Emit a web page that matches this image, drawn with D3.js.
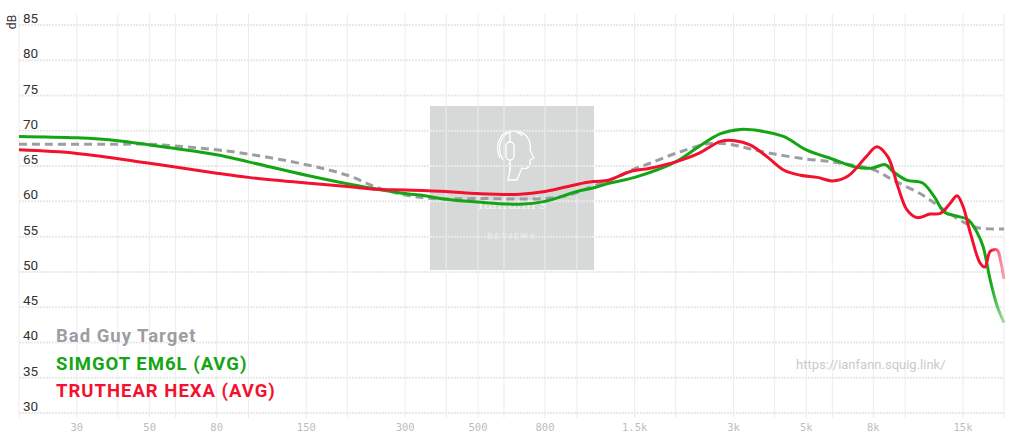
<!DOCTYPE html>
<html><head><meta charset="utf-8">
<script src="https://cdn.jsdelivr.net/npm/d3@7"></script>
<style>
html,body{margin:0;padding:0;background:#fff;}
svg{display:block;}
</style></head>
<body>
<svg id="chart" width="1024" height="443"></svg>
<script>
// ---- data ----
const yTicks = [30,35,40,45,50,55,60,65,70,75,80,85];
const xGridFreqs = [20,30,40,50,60,80,100,150,200,300,400,500,600,800,1000,1500,2000,3000,4000,5000,6000,8000,10000,15000,20000];
const xTickFreqs = [30,50,80,150,300,500,800,1500,3000,5000,8000,15000];
const xTickLabels = ["30","50","80","150","300","500","800","1.5k","3k","5k","8k","15k"];

const targetFreq = [20,40,50,80,100,150,200,246,300,365,500,800,950,1100,1300,1500,1670,2000,2550,3000,3400,4000,5000,6000,7000,8000,9200,11300,13150,15000,16500,18000,20000];
const targetDb   = [68.1,68.1,68.1,67.3,66.7,65.2,63.7,62.0,60.9,60.4,60.4,60.4,60.9,62.0,63.3,64.6,65.4,66.8,68.2,68.0,67.4,66.7,66.0,65.6,65.1,64.5,63.0,60.9,58.8,57.1,56.3,56.1,56.1];

const simgotFreq = [20,30,40,50,60,80,100,150,200,300,333,400,500,670,800,1000,1120,1260,1500,2000,2350,2740,3150,3600,4260,5000,6000,7000,7900,8700,9200,10100,11300,12250,13150,14400,15550,16560,17270,18150,19060,20000];
const simgotDb   = [69.2,69.0,68.6,68.0,67.5,66.6,65.6,63.7,62.5,61.1,60.9,60.3,59.9,59.6,60.0,61.4,61.9,62.6,63.4,65.6,67.75,69.6,70.2,70.0,69.2,67.3,66.0,64.9,64.7,65.2,64.2,63.0,62.6,60.7,58.5,57.9,57.4,55.6,53.6,48.9,45.2,42.8];

const hexaFreq = [20,30,50,80,100,150,200,246,300,400,500,670,800,1000,1120,1250,1450,1670,2000,2350,2740,3030,3370,3800,4260,4800,5400,6000,6700,7600,8200,8860,9500,10130,10870,11900,12800,13700,14400,15000,15800,16940,17500,18150,19060,19550,20000];
const hexaDb   = [67.3,66.8,65.4,64.0,63.4,62.6,62.1,61.7,61.6,61.4,61.1,61.0,61.4,62.4,62.8,63.0,64.2,64.7,65.6,66.8,68.5,68.6,68.0,66.3,64.45,63.7,63.4,62.9,63.6,66.3,67.75,66.3,62.1,58.8,57.7,58.2,58.3,59.7,60.8,59.3,55.5,51.2,50.7,52.9,53.1,51.5,49.0];

const legendNames = ["Bad Guy Target","SIMGOT EM6L (AVG)","TRUTHEAR HEXA (AVG)"];
const legendColors = ["#9c9ea3","#13a513","#f2122f"];

// ---- chart ----
const svg = d3.select("#chart");
const x = d3.scaleLog().domain([20,20000]).range([19,1004]);
const y = d3.scaleLinear().domain([30,85]).range([413,25]);

// watermark box
const wm = svg.append("g");
wm.append("rect").attr("x",430).attr("y",106).attr("width",164).attr("height",164).attr("fill","#d6d9d8");
// headphone head icon
const ic = wm.append("g").attr("fill","none").attr("stroke","#fff").attr("stroke-width",1.3);
ic.append("path").attr("d","M503,160 C497,150 499,136 510,132 C522,128 532,138 530,150 L534,158 L530,160 C531,166 528,170 522,168 C520,172 519,176 517,180 L508,180 C510,174 510,168 509,163");
ic.append("path").attr("d","M500,158 C494,145 500,132 511,131 C516,131 520,133 522,136");
ic.append("rect").attr("x",506).attr("y",142).attr("width",8).attr("height",18).attr("rx",4);
ic.append("path").attr("d","M510,132 L510,142 M510,160 L510,172");
wm.append("text").attr("x",512).attr("y",209).attr("text-anchor","middle")
  .attr("font-family","Liberation Serif, serif").attr("font-size",19).attr("fill","#f2f3f3").text("Ianfann's");
wm.append("text").attr("x",512).attr("y",239).attr("text-anchor","middle")
  .attr("font-family","Liberation Serif, serif").attr("font-size",8).attr("letter-spacing",2).attr("fill","#f4f4f4").text("REVIEWS");

// grid
const grid = svg.append("g");
grid.selectAll("line.v").data(xGridFreqs).join("line")
  .attr("x1",d=>x(d)).attr("x2",d=>x(d)).attr("y1",14).attr("y2",418)
  .attr("stroke","#ececec").attr("stroke-width",1);
grid.selectAll("line.h").data(yTicks).join("line")
  .attr("x1",19).attr("x2",1004).attr("y1",d=>y(d)).attr("y2",d=>y(d))
  .attr("stroke","#e9e9e9").attr("stroke-width",2).attr("stroke-dasharray","2,1");

// y labels
svg.append("g").selectAll("text").data(yTicks).join("text")
  .attr("x",23).attr("y",d=>y(d)-2)
  .attr("font-family","Roboto, sans-serif").attr("font-size",13.5).attr("fill","#333")
  .text(d=>d);
svg.append("text").attr("transform","translate(16,22) rotate(-90)").attr("text-anchor","middle")
  .attr("font-family","Roboto, sans-serif").attr("font-size",12).attr("fill","#333").text("dB");

// x labels
svg.append("g").selectAll("text").data(xTickFreqs).join("text")
  .attr("x",d=>x(d)).attr("y",431).attr("text-anchor","middle")
  .attr("font-family","DejaVu Sans Mono, monospace").attr("font-size",10.5).attr("fill","#bdbdbd")
  .text((d,i)=>xTickLabels[i]);

// url
svg.append("text").attr("x",796).attr("y",369)
  .attr("font-family","Roboto, sans-serif").attr("font-size",13).attr("fill","#cacaca")
  .text("https://ianfann.squig.link/");

// fade gradients
const defs = svg.append("defs");
function grad(id,color){
  const g = defs.append("linearGradient").attr("id",id).attr("gradientUnits","userSpaceOnUse")
    .attr("x1",19).attr("x2",1004).attr("y1",0).attr("y2",0);
  g.append("stop").attr("offset","0").attr("stop-color",color).attr("stop-opacity",1);
  g.append("stop").attr("offset","0.986").attr("stop-color",color).attr("stop-opacity",1);
  g.append("stop").attr("offset","1").attr("stop-color",color).attr("stop-opacity",0.35);
}
grad("gG",legendColors[1]); grad("gR",legendColors[2]);

const line = d3.line().x(d=>x(d[0])).y(d=>y(d[1])).curve(d3.curveCatmullRom.alpha(0.5));
const zip = (a,b)=>a.map((v,i)=>[v,b[i]]);

svg.append("path").attr("d",line(zip(targetFreq,targetDb))).attr("fill","none")
  .attr("stroke",legendColors[0]).attr("stroke-width",3).attr("stroke-dasharray","8,5");
svg.append("path").attr("d",line(zip(simgotFreq,simgotDb))).attr("fill","none")
  .attr("stroke","url(#gG)").attr("stroke-width",3);
svg.append("path").attr("d",line(zip(hexaFreq,hexaDb))).attr("fill","none")
  .attr("stroke","url(#gR)").attr("stroke-width",3);

// legend
svg.append("g").selectAll("text").data(legendNames).join("text")
  .attr("x",56).attr("y",(d,i)=>342+i*27.7)
  .attr("font-family","Roboto, sans-serif").attr("font-weight","bold").attr("font-size",18.5)
  .attr("letter-spacing",1.0)
  .attr("fill",(d,i)=>legendColors[i]).text(d=>d);
</script>
</body></html>
